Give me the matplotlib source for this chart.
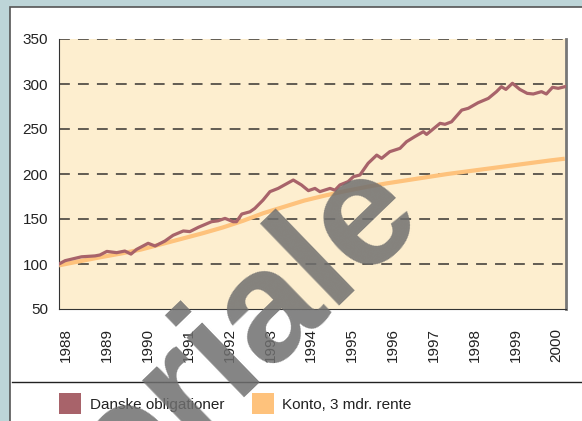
import numpy as np
import matplotlib
matplotlib.use("Agg")
import matplotlib.pyplot as plt
from matplotlib.patches import Rectangle

# Danske obligationer (index, 1988 = 100)
obl_t = [1988.00, 1988.15, 1988.55, 1988.88, 1989.00, 1989.17, 1989.41, 1989.61, 1989.76, 1989.90,
         1990.18, 1990.35, 1990.59, 1990.79, 1991.04, 1991.20, 1991.41, 1991.73, 1991.89, 1992.06,
         1992.26, 1992.34, 1992.47, 1992.67, 1992.79, 1992.99, 1993.16, 1993.36, 1993.73, 1993.93,
         1994.10, 1994.26, 1994.38, 1994.63, 1994.75, 1994.87, 1995.07, 1995.20, 1995.36, 1995.56,
         1995.77, 1995.89, 1996.09, 1996.34, 1996.50, 1996.70, 1996.91, 1996.99, 1997.32, 1997.44,
         1997.60, 1997.85, 1998.01, 1998.25, 1998.50, 1998.70, 1998.82, 1998.93, 1999.09, 1999.27,
         1999.45, 1999.60, 1999.80, 1999.92, 2000.07, 2000.21, 2000.37]
obl_v = [100, 103.7, 108, 109, 110, 114, 112.6, 114.4, 111, 116.3,
         123, 120, 125.5, 131.9, 136.7, 136, 140.8, 147, 148, 150.7,
         147, 147, 155.5, 158, 161.8, 171, 180.4, 184, 193.3, 187.8,
         181.5, 184, 180.4, 184, 182, 187.8, 191.5, 197, 198.9, 211.9,
         221, 217.4, 224.8, 228.5, 235.9, 241.5, 247, 244, 256.3, 255.2,
         258, 271, 273, 279.2, 284, 291.5, 297, 294, 300.8, 294,
         289.6, 288.9, 291.5, 288.9, 296.3, 295.2, 297]

# Konto, 3 mdr. rente
konto_t = [1988.0, 1988.5, 1989.0, 1989.5, 1990.0, 1990.5, 1991.0, 1991.5, 1992.0, 1992.5,
           1993.0, 1993.5, 1994.0, 1994.5, 1995.0, 1995.5, 1996.0, 1996.5, 1997.0, 1997.5,
           1998.0, 1998.5, 1999.0, 1999.5, 2000.0, 2000.37]
konto_v = [98.5, 103, 107.4, 111.5, 116, 122, 128, 134, 140.5, 148,
           156.5, 163.5, 170.5, 176, 181, 185.5, 189.5, 193, 196.5, 200,
           203, 206, 209, 212, 215, 217]

years = list(range(1988, 2001))
yticks = [50, 100, 150, 200, 250, 300, 350]

plt.rcParams['font.family'] = ['Liberation Sans', 'DejaVu Sans']

W, H = 582, 421
fig = plt.figure(figsize=(W / 100, H / 100), dpi=100)
fig.patch.set_facecolor('#bdd5d8')

# white panel with dark frame
fig.add_artist(Rectangle((10 / W, -0.05), 1.0, 1 - 7.5 / H + 0.05, transform=fig.transFigure,
                         facecolor='white', edgecolor='#555555', lw=1.2, zorder=-5))
# separator above legend
fig.add_artist(plt.Line2D([12 / W, 1.0], [1 - 382 / H] * 2, transform=fig.transFigure,
                          color='#222222', lw=1.0))

ax = fig.add_axes([59 / W, 1 - 309 / H, 507 / W, 270 / H])
ax.set_facecolor('#fdeecf')

ax.plot(konto_t, konto_v, color='#fec27c', lw=3.0, solid_capstyle='butt', zorder=3)
ax.plot(obl_t, obl_v, color='#a8636a', lw=2.3, zorder=4)

ax.set_xlim(1988, 2000.4)
ax.set_ylim(50, 350)
ax.set_yticks(yticks)
ax.set_xticks([y + 0.17 for y in years])
ax.set_xticklabels([str(y) for y in years], rotation=90)
ax.tick_params(axis='x', length=0, pad=13.5, labelsize=11, colors='#222222')
ax.tick_params(axis='y', length=0, pad=8, labelsize=11, colors='#222222')

for v in yticks[1:]:
    ax.axhline(v, color='#555048', lw=1.3, dashes=(6, 4.5), zorder=2)

ax.spines['top'].set_visible(False)
ax.spines['left'].set_color('#333333')
ax.spines['bottom'].set_color('#333333')
ax.spines['right'].set_color('#777777')
ax.spines['right'].set_linewidth(2)

# legend below separator
fig.add_artist(Rectangle((59 / W, 1 - 414 / H), 22 / W, 21 / H, transform=fig.transFigure,
                         facecolor='#a8636a', edgecolor='none'))
fig.text(90 / W, 1 - 405 / H, 'Danske obligationer', fontsize=11, va='center', color='#222222')
fig.add_artist(Rectangle((252 / W, 1 - 414 / H), 22 / W, 21 / H, transform=fig.transFigure,
                         facecolor='#fec27c', edgecolor='none'))
fig.text(282 / W, 1 - 405 / H, 'Konto, 3 mdr. rente', fontsize=11, va='center', color='#222222')

# watermark
fig.text(424 / W, 1 - 214 / H, 'materiale', fontsize=114, fontweight='bold', color='#6f6f6f',
         alpha=0.85, rotation=44, rotation_mode='anchor', ha='right', va='baseline', zorder=10)

fig.savefig('out.png', dpi=100, facecolor=fig.get_facecolor())
